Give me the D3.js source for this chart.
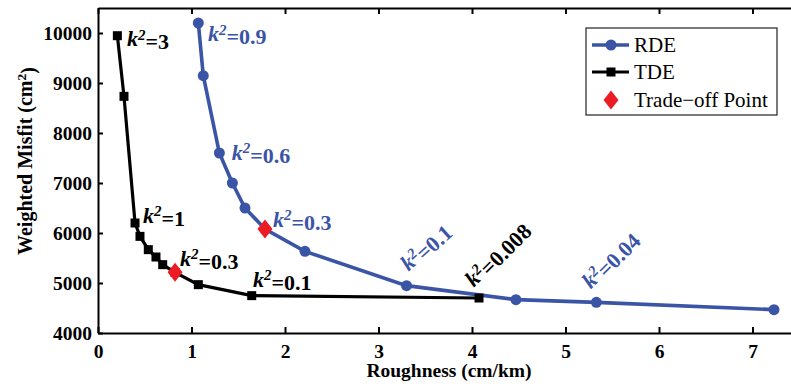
<!DOCTYPE html>
<meta charset="utf-8">
<head>
	<style type="text/css">
		body { margin: 0; background: #fff; }
		text { font-family: "Liberation Serif", "Times New Roman", serif; }
		.axis text { font-size: 19.5px; font-weight: bold; fill: #000; font-family: "Liberation Serif", serif; }
		.axis path, .axis line { stroke: #000; stroke-width: 2; }
		.ann { font-size: 22px; font-weight: bold; }
		.legend text { font-size: 21px; }
	</style>
	<title>L-curve</title>
</head>

<script src="https://cdn.jsdelivr.net/npm/d3@7"></script>

<svg width="791" height="390" id="svg1"></svg>

<script>
	// RDE curve (blue)
	const rdeX = [1.073, 1.126, 1.298, 1.437, 1.572, 1.786, 2.214, 3.30, 4.47, 5.33, 7.23];
	const rdeY = [10200, 9146, 7600, 7000, 6500, 6080, 5633, 4947, 4667, 4613, 4467];
	// TDE curve (black)
	const tdeX = [0.207, 0.278, 0.396, 0.449, 0.538, 0.620, 0.692, 0.824, 1.073, 1.644, 4.075];
	const tdeY = [9946, 8733, 6200, 5933, 5667, 5520, 5367, 5213, 4967, 4747, 4700];
	// trade-off points
	const tradeX = [0.824, 1.786];
	const tradeY = [5213, 6080];

	// k^2 labels
	const annText = ['3', '0.9', '0.6', '1', '0.3', '0.3', '0.1', '0.1', '0.008', '0.04'];
	const annX = [0.31, 1.176, 1.43, 0.481, 0.877, 1.872, 1.658, 3.32, 4.02, 5.27];
	const annY = [9740, 9836, 7466, 6206, 5346, 6126, 4926, 5226, 4906, 4870];
	const annCol = ['k', 'b', 'b', 'k', 'k', 'b', 'k', 'b', 'k', 'b'];
	const annRot = [0, 0, 0, 0, 0, 0, 0, -42, -45, -45];

	const xTicks = [0, 1, 2, 3, 4, 5, 6, 7];
	const yTicks = [4000, 5000, 6000, 7000, 8000, 9000, 10000];

	const blue = '#3b55a6';
	const red = '#ec1c24';

	const svg1 = d3.select('#svg1');
	const mLeft = 98, mTop = 8, mBottom = 333;

	const x = d3.scaleLinear().domain([0, 7.5]).range([mLeft, mLeft + 7.5 * 93.5]);
	const y = d3.scaleLinear().domain([4000, 10500]).range([mBottom, mTop]);

	// axes, ticks pointing inwards
	svg1.append('g')
		.attr('class', 'axis')
		.attr('transform', `translate(0,${mBottom})`)
		.call(d3.axisBottom(x).tickValues(xTicks).tickSizeInner(-6).tickSizeOuter(0).tickPadding(11));

	svg1.append('g')
		.attr('class', 'axis')
		.attr('transform', `translate(0,${mTop})`)
		.call(d3.axisTop(x).tickValues(xTicks).tickSizeInner(-6).tickSizeOuter(0).tickFormat(''));

	svg1.append('g')
		.attr('class', 'axis')
		.attr('transform', `translate(${mLeft},0)`)
		.call(d3.axisLeft(y).tickValues(yTicks).tickFormat(d3.format('d'))
			.tickSizeInner(-5).tickSizeOuter(0).tickPadding(6));

	// axis titles
	svg1.append('text')
		.attr('x', 449).attr('y', 377)
		.attr('text-anchor', 'middle')
		.attr('font-size', '19.5px').attr('font-weight', 'bold')
		.text('Roughness (cm/km)');

	const yl = svg1.append('text')
		.attr('transform', 'translate(32,161) rotate(-90)')
		.attr('text-anchor', 'middle')
		.attr('font-size', '20px').attr('font-weight', 'bold');
	yl.append('tspan').text('Weighted Misfit (cm');
	yl.append('tspan').attr('dy', '-0.45em').attr('font-size', '13.5px').text('2');
	yl.append('tspan').attr('dy', '0.45em').text(')');

	// curves
	const line = d3.line().x(d => x(d[0])).y(d => y(d[1]));
	const rde = rdeX.map((v, i) => [v, rdeY[i]]);
	const tde = tdeX.map((v, i) => [v, tdeY[i]]);
	const trade = tradeX.map((v, i) => [v, tradeY[i]]);

	svg1.append('path').datum(tde)
		.attr('d', line).attr('fill', 'none')
		.attr('stroke', '#000').attr('stroke-width', 3.2);
	svg1.append('path').datum(rde)
		.attr('d', line).attr('fill', 'none')
		.attr('stroke', blue).attr('stroke-width', 3.6);

	svg1.selectAll('.sq').data(tde).enter()
		.append('rect')
			.attr('x', d => x(d[0]) - 4.5).attr('y', d => y(d[1]) - 4.5)
			.attr('width', 9).attr('height', 9)
			.attr('fill', '#000');

	svg1.selectAll('.dot').data(rde).enter()
		.append('circle')
			.attr('cx', d => x(d[0])).attr('cy', d => y(d[1]))
			.attr('r', 5.5)
			.attr('fill', blue);

	const diamond = 'M0,-9.5L7.5,0L0,9.5L-7.5,0Z';
	svg1.selectAll('.dia').data(trade).enter()
		.append('path')
			.attr('d', diamond)
			.attr('transform', d => `translate(${x(d[0])},${y(d[1])})`)
			.attr('fill', red);

	// k^2 annotations
	annText.forEach((t, i) => {
		const tx = svg1.append('text')
			.attr('class', 'ann')
			.attr('transform', `translate(${x(annX[i])},${y(annY[i])}) rotate(${annRot[i]})`)
			.attr('fill', annCol[i] == 'b' ? blue : '#000');
		tx.append('tspan').attr('font-style', 'italic').text('k');
		tx.append('tspan').attr('dy', '-0.42em').attr('font-size', '15px').attr('font-style', 'italic').text('2');
		tx.append('tspan').attr('dy', '0.42em').text('=' + t);
	});

	// legend
	const lg = svg1.append('g').attr('class', 'legend');
	lg.append('rect')
		.attr('x', 586).attr('y', 28).attr('width', 191).attr('height', 87)
		.attr('fill', '#fff').attr('stroke', '#222').attr('stroke-width', 1.2);

	const legNames = ['RDE', 'TDE', 'Trade\u2212off Point'];
	const legY = [45, 72, 100];
	legNames.forEach((n, i) => {
		const g = lg.append('g').attr('transform', `translate(0,${legY[i]})`);
		if (i == 0) {
			g.append('line').attr('x1', 592).attr('x2', 629).attr('stroke', blue).attr('stroke-width', 3.6);
			g.append('circle').attr('cx', 611).attr('r', 5.5).attr('fill', blue);
		} else if (i == 1) {
			g.append('line').attr('x1', 592).attr('x2', 629).attr('stroke', '#000').attr('stroke-width', 3.2);
			g.append('rect').attr('x', 606.5).attr('y', -4.5).attr('width', 9).attr('height', 9).attr('fill', '#000');
		} else {
			g.append('path').attr('d', diamond).attr('transform', 'translate(611,0)').attr('fill', red);
		}
		g.append('text').attr('x', 634).attr('dy', '0.35em').text(n);
	});
</script>
